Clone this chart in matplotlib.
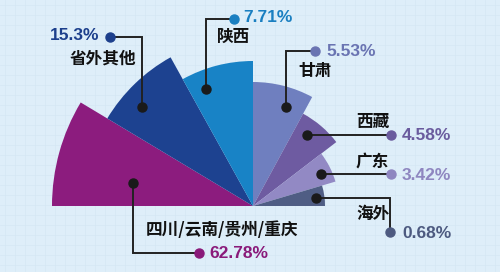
import numpy as np
import matplotlib
matplotlib.use("Agg")
import matplotlib.pyplot as plt

# Origin of visitors: share (%) per region, ordered left to right around the half-rose
regions = ["四川/云南/贵州/重庆", "省外其他", "陕西", "甘肃", "西藏", "广东", "海外"]
shares = [62.78, 15.3, 7.71, 5.53, 4.58, 3.42, 0.68]

# Layout of the half-rose (pixels / degrees)
wedge_radius = [201, 170, 145, 124, 105, 86, 72]
wedge_span = [31, 30, 29, 28.5, 24, 21, 16.5]
wedge_colors = ["#8c1c7e", "#1d4290", "#1883c6", "#6f7fbf", "#6e5ba1", "#9289c4", "#4f5d84"]
label_colors = ["#8a1a7a", "#1c3f8c", "#1a7fc1", "#6a74b2", "#6a5b9e", "#8e86c0", "#4d5a80"]

W, H = 500, 272
CX, CY = 253, 206          # centre of the rose, pixel coords from top-left
RMAX = 210

BG = "#deeef9"
GRID = "#d5e7f4"

fig = plt.figure(figsize=(W / 100, H / 100), dpi=100)
fig.patch.set_facecolor(BG)

# background with faint grid
bg = fig.add_axes([0, 0, 1, 1])
bg.set_xlim(0, W)
bg.set_ylim(H, 0)
bg.set_facecolor(BG)
for x in np.arange(5, W, 10):
    bg.axvline(x, color=GRID, lw=0.5, zorder=0)
for y in np.arange(5, H, 10):
    bg.axhline(y, color=GRID, lw=0.5, zorder=0)
bg.set_axis_off()
bg.add_patch(plt.Rectangle((0, 0), W, H, color=BG, zorder=-1))

# the half-rose itself
pax = fig.add_axes([(CX - RMAX) / W, (H - CY - RMAX) / H, 2 * RMAX / W, 2 * RMAX / H],
                   projection="polar")
pax.set_theta_zero_location("E")
pax.set_theta_direction(1)
edges = 180 - np.cumsum(wedge_span)
pax.bar(np.deg2rad(edges), wedge_radius, width=np.deg2rad(wedge_span), align="edge",
        bottom=0, color=wedge_colors, linewidth=0)
pax.set_ylim(0, RMAX)
pax.set_axis_off()
pax.patch.set_alpha(0)

# overlay for leader lines and labels
ov = fig.add_axes([0, 0, 1, 1])
ov.set_xlim(0, W)
ov.set_ylim(H, 0)
ov.set_axis_off()
ov.patch.set_alpha(0)

# leader paths: black anchor on the wedge -> elbow -> coloured end dot
leaders = [
    [(133, 183), (133, 253), (199, 253)],
    [(142, 107), (142, 37), (110, 37)],
    [(206, 89), (206, 19), (234, 19)],
    [(286, 107), (286, 51), (315, 51)],
    [(307, 135), (391, 135)],
    [(321, 174), (391, 174)],
    [(316, 198), (390, 198), (390, 232)],
]
for path, col in zip(leaders, label_colors):
    xs, ys = zip(*path)
    ov.plot(xs, ys, color="#222222", lw=1.4, solid_joinstyle="miter", zorder=3)
    ov.plot(xs[0], ys[0], "o", ms=6.5, color="#1a1a1a", zorder=4)
    ov.plot(xs[-1], ys[-1], "o", ms=6.5, color=col, zorder=4)

cjk = dict(family=["Noto Sans CJK SC", "DejaVu Sans"], fontweight="heavy", fontsize=12,
           color="#111111", va="center")
num = dict(family=["Liberation Sans", "DejaVu Sans"], fontweight="bold", fontsize=12.5,
           va="center")

# region names (x, y, horizontal alignment)
name_pos = [
    (146, 230, "left"),
    (136, 59, "right"),
    (217, 37, "left"),
    (298, 71, "left"),
    (356, 122, "left"),
    (356, 162, "left"),
    (356, 214, "left"),
]
# share values
value_pos = [
    (209, 253, "left"),
    (99, 36, "right"),
    (243, 18, "left"),
    (326, 52, "left"),
    (402, 135, "left"),
    (402, 175, "left"),
    (402, 233, "left"),
]
for name, val, (nx, ny, nha), (vx, vy, vha), col in zip(regions, shares, name_pos,
                                                         value_pos, label_colors):
    ov.text(nx, ny, name, ha=nha, **cjk)
    ov.text(vx, vy, f"{val}%", ha=vha, color=col, **num)

fig.savefig("out.png", dpi=100, facecolor=BG)
